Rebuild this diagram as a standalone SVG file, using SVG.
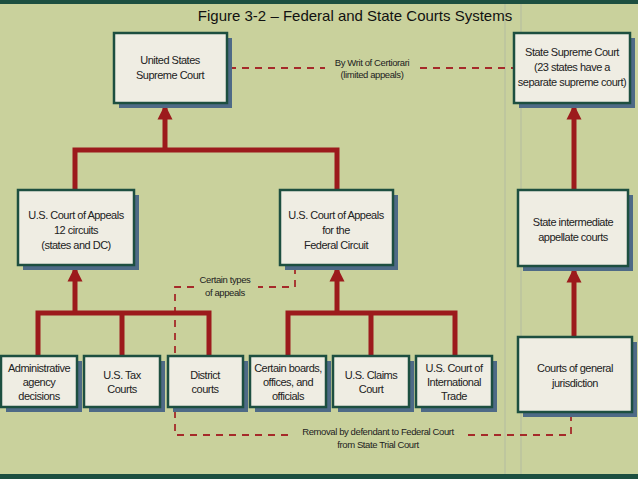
<svg xmlns="http://www.w3.org/2000/svg" width="638" height="479" viewBox="0 0 638 479">
<style>
.b{fill:#efede3;stroke:#1d4f40;stroke-width:2.5}
.s{fill:#4e6a86}
.t{font-family:"Liberation Sans",sans-serif;font-size:11px;letter-spacing:-0.5px;fill:#222;text-anchor:middle}
.l{font-family:"Liberation Sans",sans-serif;font-size:9.5px;letter-spacing:-0.4px;fill:#222;text-anchor:middle}
.r{stroke:#9c1a1c;stroke-width:5;fill:none}
.d{stroke:#a52a2a;stroke-width:1.8;fill:none;stroke-dasharray:7,6}
</style>
<defs><marker id="a" viewBox="0 0 10 10" refX="9" refY="5" markerWidth="3" markerHeight="3.4" orient="auto"><path d="M0,0L10,5L0,10z" fill="#9c1a1c"/></marker></defs>
<rect width="638" height="479" fill="#c9d19c"/>
<rect width="638" height="4" fill="#1d4f40"/>
<rect y="474" width="638" height="5" fill="#1d4f40"/>
<line x1="505" y1="4" x2="505" y2="474" stroke="#b3bba0" stroke-width="1"/>
<line x1="521" y1="4" x2="521" y2="474" stroke="#b3bba0" stroke-width="1"/>
<text x="355" y="21" font-family="Liberation Sans,sans-serif" font-size="15" text-anchor="middle" fill="#111">Figure 3-2 – Federal and State Courts Systems</text>
<g id="connectors">
<path class="d" d="M229,68H325M420,68H514"/>
<text class="l" x="372" y="66">By Writ of Certiorari</text>
<text class="l" x="372" y="78">(limited appeals)</text>
<path class="d" d="M295,267V287H258M194,287H175V435H288"/>
<text class="l" x="225" y="283">Certain types</text>
<text class="l" x="225" y="296">of appeals</text>
<path class="d" d="M468,435H571V414"/>
<text class="l" x="378" y="435">Removal by defendant to Federal Court</text>
<text class="l" x="378" y="448">from State Trial Court</text>
<path class="r" d="M38,356V313H209V356M122,313V356M288,356V313H455V356M371,313V356M75,190V150H337V190"/>
<line class="r" x1="75" y1="313" x2="75" y2="268" marker-end="url(#a)"/>
<line class="r" x1="337" y1="313" x2="337" y2="268" marker-end="url(#a)"/>
<line class="r" x1="165" y1="150" x2="165" y2="106" marker-end="url(#a)"/>
<line class="r" x1="574" y1="337" x2="574" y2="269" marker-end="url(#a)"/>
<line class="r" x1="574" y1="190" x2="574" y2="106" marker-end="url(#a)"/>
</g>
<g id="ussc"><rect class="s" x="119" y="38" width="113" height="70"/><rect class="b" x="114" y="33" width="113" height="70"/><text class="t" x="170" y="64">United States</text><text class="t" x="170" y="79">Supreme Court</text></g>
<g id="ssc"><rect class="s" x="519" y="38" width="116" height="70"/><rect class="b" x="514" y="33" width="116" height="70"/><text class="t" x="572" y="56">State Supreme Court</text><text class="t" x="572" y="71">(23 states have a</text><text class="t" x="572" y="86">separate supreme court)</text></g>
<g id="app12"><rect class="s" x="23" y="195" width="116" height="75"/><rect class="b" x="18" y="190" width="116" height="75"/><text class="t" x="76" y="219">U.S. Court of Appeals</text><text class="t" x="76" y="234">12 circuits</text><text class="t" x="76" y="249">(states and DC)</text></g>
<g id="appfed"><rect class="s" x="285" y="195" width="113" height="75"/><rect class="b" x="280" y="190" width="113" height="75"/><text class="t" x="336" y="219">U.S. Court of Appeals</text><text class="t" x="336" y="234">for the</text><text class="t" x="336" y="249">Federal Circuit</text></g>
<g id="sint"><rect class="s" x="523" y="195" width="110" height="76"/><rect class="b" x="518" y="190" width="110" height="76"/><text class="t" x="573" y="226">State intermediate</text><text class="t" x="573" y="241">appellate courts</text></g>
<g id="admin"><rect class="s" x="6" y="361" width="76" height="51"/><rect class="b" x="1" y="356" width="76" height="51"/><text class="t" x="39" y="372">Administrative</text><text class="t" x="39" y="386">agency</text><text class="t" x="39" y="400">decisions</text></g>
<g id="tax"><rect class="s" x="89" y="361" width="76" height="51"/><rect class="b" x="84" y="356" width="76" height="51"/><text class="t" x="122" y="379">U.S. Tax</text><text class="t" x="122" y="393">Courts</text></g>
<g id="district"><rect class="s" x="173" y="361" width="75" height="51"/><rect class="b" x="168" y="356" width="75" height="51"/><text class="t" x="205" y="379">District</text><text class="t" x="205" y="393">courts</text></g>
<g id="boards"><rect class="s" x="255" y="361" width="76" height="51"/><rect class="b" x="250" y="356" width="76" height="51"/><text class="t" x="288" y="372">Certain boards,</text><text class="t" x="288" y="386">offices, and</text><text class="t" x="288" y="400">officials</text></g>
<g id="claims"><rect class="s" x="338" y="361" width="76" height="51"/><rect class="b" x="333" y="356" width="76" height="51"/><text class="t" x="371" y="379">U.S. Claims</text><text class="t" x="371" y="393">Court</text></g>
<g id="intl"><rect class="s" x="421" y="361" width="76" height="51"/><rect class="b" x="416" y="356" width="76" height="51"/><text class="t" x="454" y="372">U.S. Court of</text><text class="t" x="454" y="386">International</text><text class="t" x="454" y="400">Trade</text></g>
<g id="general"><rect class="s" x="523" y="342" width="114" height="75"/><rect class="b" x="518" y="337" width="114" height="75"/><text class="t" x="575" y="372">Courts of general</text><text class="t" x="575" y="387">jurisdiction</text></g>
</svg>
